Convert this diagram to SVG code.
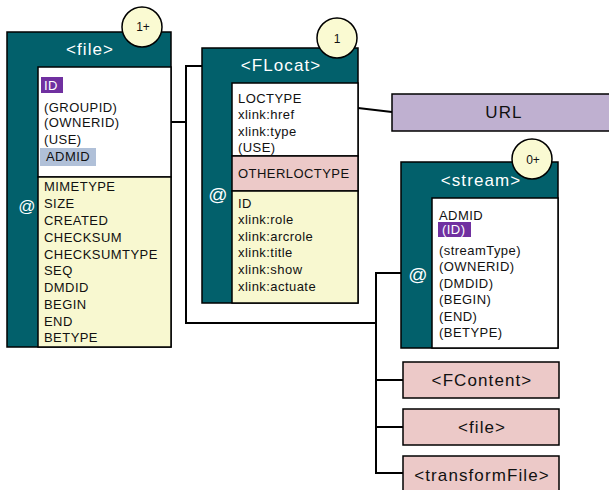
<svg xmlns="http://www.w3.org/2000/svg" width="609" height="490" viewBox="0 0 609 490">
<style>
.frame{stroke:#000;stroke-width:1.5}
.teal{fill:#02606b}
.white{fill:#ffffff}
.yellow{fill:#f8f8d0}
.pink{fill:#ecc9c8}
.lav{fill:#bfb0d0}
.hd{font-family:"Liberation Sans",Arial,sans-serif;font-size:17px;fill:#ffffff;text-anchor:middle;letter-spacing:1.1px}
.it{font-family:"Liberation Sans",Arial,sans-serif;font-size:13px;fill:#111;letter-spacing:0.45px}
.itw{font-family:"Liberation Sans",Arial,sans-serif;font-size:13px;fill:#fff;letter-spacing:0.45px}
.at{font-family:"Liberation Sans",Arial,sans-serif;fill:#fff;text-anchor:middle}
.bx{font-family:"Liberation Sans",Arial,sans-serif;font-size:17px;fill:#111;text-anchor:middle;letter-spacing:1.1px}
.badge{fill:#fafad2;stroke:#000;stroke-width:1.5}
.bt{font-family:"Liberation Sans",Arial,sans-serif;font-size:12px;fill:#111;text-anchor:middle}
.conn{fill:none;stroke:#000;stroke-width:2}
</style>

<g id="connectors">
<path class="conn" d="M171,122 H186 M186,66 V323 M185,66 H202 M185,323 H377 M376,273 V474 M375,273 H401 M376,380 H403 M376,427 H403 M375,473 H403"/>
<path class="conn" d="M358,108 L392,112"/>
</g>

<g id="node-file">
<rect class="teal frame" x="7" y="32" width="164" height="315"/>
<rect class="white frame" x="38" y="67" width="133" height="110"/>
<rect class="yellow frame" x="38" y="177" width="133" height="170"/>
<text class="hd" x="90" y="55">&lt;file&gt;</text>
<text class="at" x="27" y="212" font-size="17">@</text>
<rect x="41" y="77" width="22" height="16" fill="#7030a0"/>
<text class="itw" x="44" y="90">ID</text>
<text class="it" x="44" y="112">(GROUPID)</text>
<text class="it" x="44" y="127">(OWNERID)</text>
<text class="it" x="44" y="144">(USE)</text>
<rect x="40" y="148" width="56" height="18" fill="#b0c0d8"/>
<text class="it" x="46" y="161">ADMID</text>
<text class="it" x="44" y="191">MIMETYPE</text>
<text class="it" x="44" y="208">SIZE</text>
<text class="it" x="44" y="225">CREATED</text>
<text class="it" x="44" y="241.5">CHECKSUM</text>
<text class="it" x="44" y="258.5">CHECKSUMTYPE</text>
<text class="it" x="44" y="275">SEQ</text>
<text class="it" x="44" y="292">DMDID</text>
<text class="it" x="44" y="308.5">BEGIN</text>
<text class="it" x="44" y="325.5">END</text>
<text class="it" x="44" y="342">BETYPE</text>
<circle class="badge" cx="142" cy="27" r="20"/>
<text class="bt" x="143" y="31">1+</text>
</g>

<g id="node-flocat">
<rect class="teal frame" x="202" y="48" width="156" height="255"/>
<rect class="white frame" x="232" y="83" width="126" height="73"/>
<rect class="pink frame" x="232" y="156" width="126" height="35"/>
<rect class="yellow frame" x="232" y="191" width="126" height="112"/>
<text class="hd" x="281" y="71">&lt;FLocat&gt;</text>
<text class="at" x="218" y="201" font-size="19">@</text>
<text class="it" x="238" y="102.5">LOCTYPE</text>
<text class="it" x="238" y="119">xlink:href</text>
<text class="it" x="238" y="135.5">xlink:type</text>
<text class="it" x="238" y="152">(USE)</text>
<text class="it" x="238" y="177.5">OTHERLOCTYPE</text>
<text class="it" x="238" y="207.5">ID</text>
<text class="it" x="238" y="224">xlink:role</text>
<text class="it" x="238" y="240.7">xlink:arcrole</text>
<text class="it" x="238" y="257.4">xlink:title</text>
<text class="it" x="238" y="274">xlink:show</text>
<text class="it" x="238" y="290.7">xlink:actuate</text>
<circle class="badge" cx="337" cy="38" r="20"/>
<text class="bt" x="337" y="43">1</text>
</g>

<g id="node-url">
<rect class="lav frame" x="392" y="94" width="222" height="37"/>
<text class="bx" x="504" y="118">URL</text>
</g>

<g id="node-stream">
<rect class="teal frame" x="401" y="162" width="157" height="186"/>
<rect class="white frame" x="432" y="198" width="126" height="150"/>
<text class="hd" x="481" y="186">&lt;stream&gt;</text>
<text class="at" x="418" y="281" font-size="19">@</text>
<text class="it" x="439" y="219.5">ADMID</text>
<rect x="438" y="222" width="33" height="15" fill="#7030a0"/>
<text class="itw" x="442" y="234">(ID)</text>
<text class="it" x="439" y="254.5">(streamType)</text>
<text class="it" x="439" y="271">(OWNERID)</text>
<text class="it" x="439" y="287.5">(DMDID)</text>
<text class="it" x="439" y="304">(BEGIN)</text>
<text class="it" x="439" y="320.5">(END)</text>
<text class="it" x="439" y="337">(BETYPE)</text>
<circle class="badge" cx="532" cy="159" r="20"/>
<text class="bt" x="533" y="164">0+</text>
</g>

<g id="node-fcontent">
<rect class="pink frame" x="403" y="362" width="156" height="36"/>
<text class="bx" x="482" y="386">&lt;FContent&gt;</text>
</g>

<g id="node-file-child">
<rect class="pink frame" x="403" y="409" width="156" height="36"/>
<text class="bx" x="482" y="433">&lt;file&gt;</text>
</g>

<g id="node-transformfile">
<rect class="pink frame" x="403" y="456" width="156" height="37"/>
<text class="bx" x="482" y="481">&lt;transformFile&gt;</text>
</g>
</svg>
